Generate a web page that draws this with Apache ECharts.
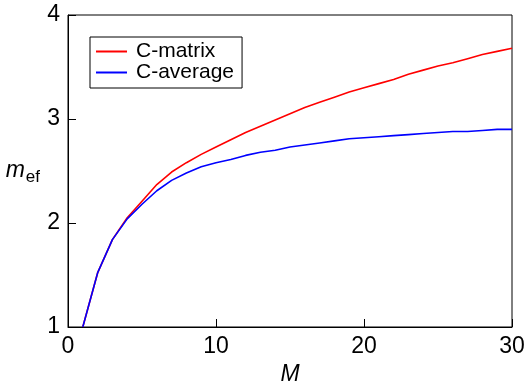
<!DOCTYPE html>
<html>
<head>
<meta charset="utf-8">
<script src="https://cdn.jsdelivr.net/npm/echarts@6/dist/echarts.min.js"></script>
<style>
  html, body { margin: 0; padding: 0; background: #fff; }
  #chart { width: 528px; height: 382px; }
</style>
</head>
<body>
<div id="chart"></div>
<script>
// ===== data =====
const mValues = [1, 2, 3, 4, 5, 6, 7, 8, 9, 10, 11, 12, 13, 14, 15,
                 16, 17, 18, 19, 20, 21, 22, 23, 24, 25, 26, 27, 28, 29, 30];
const cMatrix = [1.00, 1.52, 1.84, 2.05, 2.21, 2.37, 2.49, 2.58, 2.66, 2.73,
                 2.80, 2.87, 2.93, 2.99, 3.05, 3.11, 3.16, 3.21, 3.26, 3.30,
                 3.34, 3.38, 3.43, 3.47, 3.51, 3.54, 3.58, 3.62, 3.65, 3.68];
const cAverage = [1.00, 1.52, 1.84, 2.04, 2.18, 2.31, 2.41, 2.48, 2.54, 2.58,
                  2.61, 2.65, 2.68, 2.70, 2.73, 2.75, 2.77, 2.79, 2.81, 2.82,
                  2.83, 2.84, 2.85, 2.86, 2.87, 2.88, 2.88, 2.89, 2.90, 2.90];
const xTicks = [0, 10, 20, 30];
const yTicks = [1, 2, 3, 4];

const FONT = "Liberation Sans, Arial, sans-serif";
const pairs = (ys) => mValues.map((m, i) => [m, ys[i]]);

const chart = echarts.init(document.getElementById("chart"), null, { renderer: "canvas" });

chart.setOption({
  animation: false,
  grid: {
    left: 68, right: 16, top: 15, bottom: 55,
    containLabel: false,
    outerBoundsMode: "none",
    show: true, borderColor: "#000", borderWidth: 1,
  },
  legend: {
    orient: "vertical",
    left: 90, top: 37,
    padding: [4, 8, 5, 6],
    itemGap: 0,
    itemWidth: 31, itemHeight: 2,
    icon: "rect",
    borderColor: "#000", borderWidth: 1,
    textStyle: { fontFamily: FONT, fontSize: 21, color: "#000", lineHeight: 21, padding: [0, 0, 0, 4] },
    data: ["C-matrix", "C-average"],
  },
  xAxis: {
    type: "value",
    min: xTicks[0], max: xTicks[xTicks.length - 1], interval: 10,
    name: "M",
    nameLocation: "middle",
    nameGap: 33,
    nameTextStyle: { fontFamily: FONT, fontSize: 23, fontStyle: "italic", color: "#000", verticalAlign: "top" },
    axisLine: { lineStyle: { color: "#000", width: 1 } },
    axisTick: { inside: true, length: 8, lineStyle: { color: "#000" } },
    axisLabel: { fontFamily: FONT, fontSize: 23, color: "#000", margin: 8 },
    splitLine: { show: false },
  },
  yAxis: {
    type: "value",
    min: yTicks[0], max: yTicks[yTicks.length - 1], interval: 1,
    name: "{i|m}{s|ef}",
    nameLocation: "middle",
    nameRotate: 0,
    nameGap: 28,
    nameTextStyle: {
      rich: {
        i: { fontFamily: FONT, fontSize: 23, fontStyle: "italic", color: "#000" },
        s: { fontFamily: FONT, fontSize: 17, color: "#000", padding: [12, 0, 0, 1] },
      },
    },
    axisLine: { lineStyle: { color: "#000", width: 1 } },
    axisTick: { inside: true, length: 8, lineStyle: { color: "#000" } },
    axisLabel: { fontFamily: FONT, fontSize: 23, color: "#000", margin: 8 },
    splitLine: { show: false },
  },
  series: [
    {
      name: "C-matrix", type: "line", data: pairs(cMatrix),
      showSymbol: false, smooth: false,
      lineStyle: { color: "#ff0000", width: 1.6 },
      itemStyle: { color: "#ff0000" },
    },
    {
      name: "C-average", type: "line", data: pairs(cAverage),
      showSymbol: false, smooth: false,
      lineStyle: { color: "#0000ff", width: 1.6 },
      itemStyle: { color: "#0000ff" },
    },
  ],
});
</script>
</body>
</html>
